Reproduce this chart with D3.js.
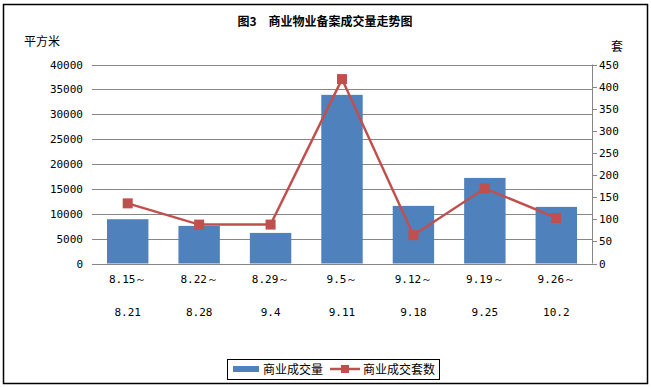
<!DOCTYPE html>
<html><head><meta charset="utf-8">
<script src="https://cdn.jsdelivr.net/npm/d3@7/dist/d3.min.js"></script>
<style>body{margin:0;background:#fff}</style>
</head><body>
<svg id="c" width="651" height="387"></svg>
<script>
const categories = ["8.15～|8.21","8.22～|8.28","8.29～|9.4","9.5～|9.11","9.12～|9.18","9.19～|9.25","9.26～|10.2"];
const areaValues = [8900, 7560, 6150, 33900, 11580, 17200, 11380];
const unitValues = [136, 88, 88, 417, 64, 170, 103];
const leftTicks = [0,5000,10000,15000,20000,25000,30000,35000,40000];
const rightTicks = [0,50,100,150,200,250,300,350,400,450];

const svg = d3.select("#c");
const L = 92, R = 592, T = 64.5, B = 263.5;
const mono = "'DejaVu Sans Mono', monospace";
const cjk = "'Noto Sans CJK SC', sans-serif";

svg.append("rect").attr("x",3.5).attr("y",4.5).attr("width",644).attr("height",379)
  .attr("fill","#fff").attr("stroke","#000").attr("stroke-width",1.5);

const x = d3.scaleBand().domain(categories).range([L,R]).paddingInner(0.42).paddingOuter(0.21);
const yL = d3.scaleLinear().domain([0,40000]).range([B,T]);
const yR = d3.scaleLinear().domain([0,450]).range([B,T]);

// gridlines
svg.append("g").selectAll("line").data(leftTicks).join("line")
  .attr("x1",L).attr("x2",R).attr("y1",d=>Math.round(yL(d))+0.5).attr("y2",d=>Math.round(yL(d))+0.5)
  .attr("stroke","#868686").attr("stroke-width",1);

// left labels
svg.append("g").selectAll("text").data(leftTicks).join("text")
  .attr("x",83).attr("y",d=>yL(d)+4).attr("text-anchor","end")
  .attr("font-family",mono).attr("font-size",11).text(d=>d);

// right axis
svg.append("line").attr("x1",R+0.5).attr("x2",R+0.5).attr("y1",T).attr("y2",B).attr("stroke","#868686");
svg.append("g").selectAll("line").data(rightTicks).join("line")
  .attr("x1",R).attr("x2",R+5).attr("y1",d=>Math.round(yR(d))+0.5).attr("y2",d=>Math.round(yR(d))+0.5)
  .attr("stroke","#868686");
svg.append("g").selectAll("text").data(rightTicks).join("text")
  .attr("x",R+7).attr("y",d=>yR(d)+4).attr("text-anchor","start")
  .attr("font-family",mono).attr("font-size",11).text(d=>d);

// bars
svg.append("g").selectAll("rect").data(areaValues).join("rect")
  .attr("x",(d,i)=>x(categories[i])).attr("width",x.bandwidth())
  .attr("y",d=>yL(d)).attr("height",d=>B-yL(d)).attr("fill","#4F81BD");

// x labels
const xl = svg.append("g").selectAll("g").data(categories).join("g")
  .attr("transform",d=>`translate(${x(d)+x.bandwidth()/2},0)`);
xl.append("text").attr("y",283).attr("text-anchor","middle").attr("font-family",mono).attr("font-size",11)
  .text(d=>d.split("|")[0]);
xl.append("text").attr("y",316).attr("text-anchor","middle").attr("font-family",mono).attr("font-size",11)
  .text(d=>d.split("|")[1]);

// line
const cx = i=>x(categories[i])+x.bandwidth()/2;
svg.append("path").datum(unitValues)
  .attr("d",d3.line().x((d,i)=>cx(i)).y(d=>yR(d)))
  .attr("fill","none").attr("stroke","#C0504D").attr("stroke-width",2.5);
svg.append("g").selectAll("rect").data(unitValues).join("rect")
  .attr("x",(d,i)=>cx(i)-5).attr("y",d=>yR(d)-5).attr("width",10).attr("height",10)
  .attr("fill","#C0504D");

// titles
svg.append("text").attr("x",325).attr("y",26).attr("text-anchor","middle")
  .attr("font-family",cjk).attr("font-size",12).attr("font-weight","bold").text("图3　商业物业备案成交量走势图");
svg.append("text").attr("x",24).attr("y",46).attr("font-family",cjk).attr("font-size",12).text("平方米");
svg.append("text").attr("x",611).attr("y",51).attr("font-family",cjk).attr("font-size",12).text("套");

// legend
const lg = svg.append("g");
lg.append("rect").attr("x",227.5).attr("y",359.5).attr("width",212).attr("height",20).attr("fill","#fff").attr("stroke","#000");
lg.append("rect").attr("x",233).attr("y",366).attr("width",26).attr("height",6).attr("fill","#4F81BD");
lg.append("text").attr("x",263).attr("y",374).attr("font-family",cjk).attr("font-size",12).text("商业成交量");
lg.append("line").attr("x1",330).attr("x2",360).attr("y1",369).attr("y2",369).attr("stroke","#C0504D").attr("stroke-width",2.5);
lg.append("rect").attr("x",341).attr("y",365).attr("width",8).attr("height",8).attr("fill","#C0504D");
lg.append("text").attr("x",363).attr("y",374).attr("font-family",cjk).attr("font-size",12).text("商业成交套数");
</script>
</body></html>
